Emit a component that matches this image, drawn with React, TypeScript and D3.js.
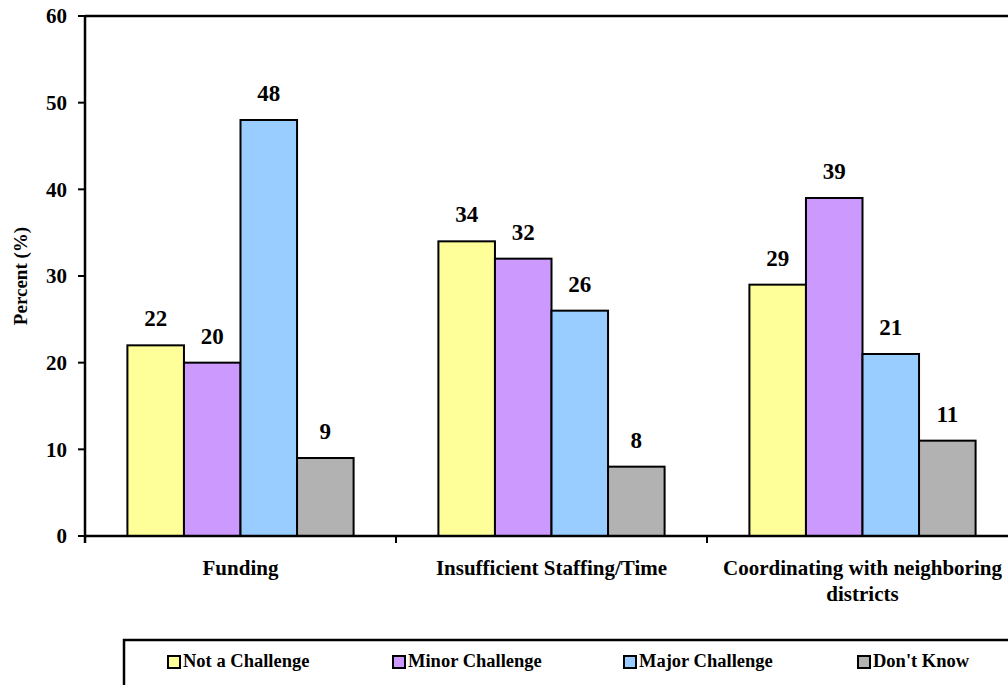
import React, { useEffect, useRef } from "react";
import * as d3 from "d3";

// Survey results: share of respondents rating each issue as a challenge
const categories = ["Funding", "Insufficient Staffing/Time", "Coordinating with neighboring districts"];
const seriesNames = ["Not a Challenge", "Minor Challenge", "Major Challenge", "Don't Know"];
const notAChallenge = [22, 34, 29];
const minorChallenge = [20, 32, 39];
const majorChallenge = [48, 26, 21];
const dontKnow = [9, 8, 11];
const seriesColors = ["#FFFF99", "#CC99FF", "#99CCFF", "#B2B2B2"];
const yTicks = [0, 10, 20, 30, 40, 50, 60];
const yTitle = "Percent (%)";

const W = 1008;
const H = 685;
const FONT = "'Liberation Serif', 'Times New Roman', serif";

export default function App() {
  const ref = useRef<SVGSVGElement | null>(null);

  useEffect(() => {
    const svg = d3.select(ref.current);
    svg.selectAll("*").remove();

    const values = [notAChallenge, minorChallenge, majorChallenge, dontKnow];
    const left = 85, right = 1018, top = 16, bottom = 536;

    const x = d3.scaleBand<string>().domain(categories).range([left, right]).padding(0);
    const xi = d3
      .scaleBand<string>()
      .domain(seriesNames)
      .range([0, x.step()])
      .paddingInner(0)
      .paddingOuter(0.75);
    const y = d3.scaleLinear().domain([0, 60]).range([bottom, top]);

    const g = svg.append("g");

    // bars with value labels
    seriesNames.forEach((s, si) => {
      categories.forEach((c, ci) => {
        const v = values[si][ci];
        const bx = (x(c) ?? 0) + (xi(s) ?? 0);
        g.append("rect")
          .attr("x", bx)
          .attr("y", y(v))
          .attr("width", xi.bandwidth())
          .attr("height", y(0) - y(v))
          .attr("fill", seriesColors[si])
          .attr("stroke", "#000")
          .attr("stroke-width", 2);
        g.append("text")
          .attr("x", bx + xi.bandwidth() / 2)
          .attr("y", y(v) - 19)
          .attr("text-anchor", "middle")
          .attr("font-family", FONT)
          .attr("font-weight", "bold")
          .attr("font-size", 23)
          .attr("fill", "#000")
          .text(String(v));
      });
    });

    // frame: top border, left axis, bottom axis
    g.append("line")
      .attr("x1", left).attr("x2", right).attr("y1", top).attr("y2", top)
      .attr("stroke", "#000").attr("stroke-width", 2.5);
    g.append("line")
      .attr("x1", left).attr("x2", left).attr("y1", top).attr("y2", bottom + 7)
      .attr("stroke", "#000").attr("stroke-width", 2.5);
    g.append("line")
      .attr("x1", left).attr("x2", right).attr("y1", bottom).attr("y2", bottom)
      .attr("stroke", "#000").attr("stroke-width", 2.5);

    // y ticks
    yTicks.forEach((t) => {
      g.append("line")
        .attr("x1", left - 7).attr("x2", left).attr("y1", y(t)).attr("y2", y(t))
        .attr("stroke", "#000").attr("stroke-width", 2);
      g.append("text")
        .attr("x", left - 18)
        .attr("y", y(t))
        .attr("dy", "0.35em")
        .attr("text-anchor", "end")
        .attr("font-family", FONT)
        .attr("font-weight", "bold")
        .attr("font-size", 21)
        .text(String(t));
    });

    // x ticks at category boundaries
    const bounds = categories.map((c) => (x(c) ?? 0) + x.step());
    bounds.forEach((bx) => {
      g.append("line")
        .attr("x1", bx).attr("x2", bx).attr("y1", bottom).attr("y2", bottom + 7)
        .attr("stroke", "#000").attr("stroke-width", 2);
    });

    // category labels, wrapped to the band width
    categories.forEach((c) => {
      const cx = (x(c) ?? 0) + x.step() / 2;
      const text = g
        .append("text")
        .attr("x", cx)
        .attr("y", 575)
        .attr("text-anchor", "middle")
        .attr("font-family", FONT)
        .attr("font-weight", "bold")
        .attr("font-size", 21);
      const words = c.split(" ");
      let line: string[] = [];
      let tspan = text.append("tspan").attr("x", cx).attr("dy", 0);
      words.forEach((w) => {
        line.push(w);
        tspan.text(line.join(" "));
        const node = tspan.node() as SVGTSpanElement;
        if (node.getComputedTextLength() > x.step() - 20 && line.length > 1) {
          line.pop();
          tspan.text(line.join(" "));
          line = [w];
          tspan = text.append("tspan").attr("x", cx).attr("dy", 26).text(w);
        }
      });
    });

    // y axis title
    g.append("text")
      .attr("transform", `translate(27, ${(top + bottom) / 2}) rotate(-90)`)
      .attr("text-anchor", "middle")
      .attr("font-family", FONT)
      .attr("font-weight", "bold")
      .attr("font-size", 19)
      .text(yTitle);

    // legend
    const legendX = 124, legendY = 640;
    g.append("rect")
      .attr("x", legendX)
      .attr("y", legendY)
      .attr("width", 1100)
      .attr("height", 100)
      .attr("fill", "#fff")
      .attr("stroke", "#000")
      .attr("stroke-width", 2.5);
    const itemX = [167, 392, 623, 857];
    seriesNames.forEach((s, i) => {
      g.append("rect")
        .attr("x", itemX[i] + 1)
        .attr("y", 656)
        .attr("width", 12)
        .attr("height", 12)
        .attr("fill", seriesColors[i])
        .attr("stroke", "#000")
        .attr("stroke-width", 2);
      g.append("text")
        .attr("x", itemX[i] + 16)
        .attr("y", 667)
        .attr("font-family", FONT)
        .attr("font-weight", "bold")
        .attr("font-size", 18.5)
        .text(s);
    });
  }, []);

  return (
    <svg
      ref={ref}
      width={W}
      height={H}
      style={{ position: "fixed", left: 0, top: 0, background: "#fff" }}
    />
  );
}
